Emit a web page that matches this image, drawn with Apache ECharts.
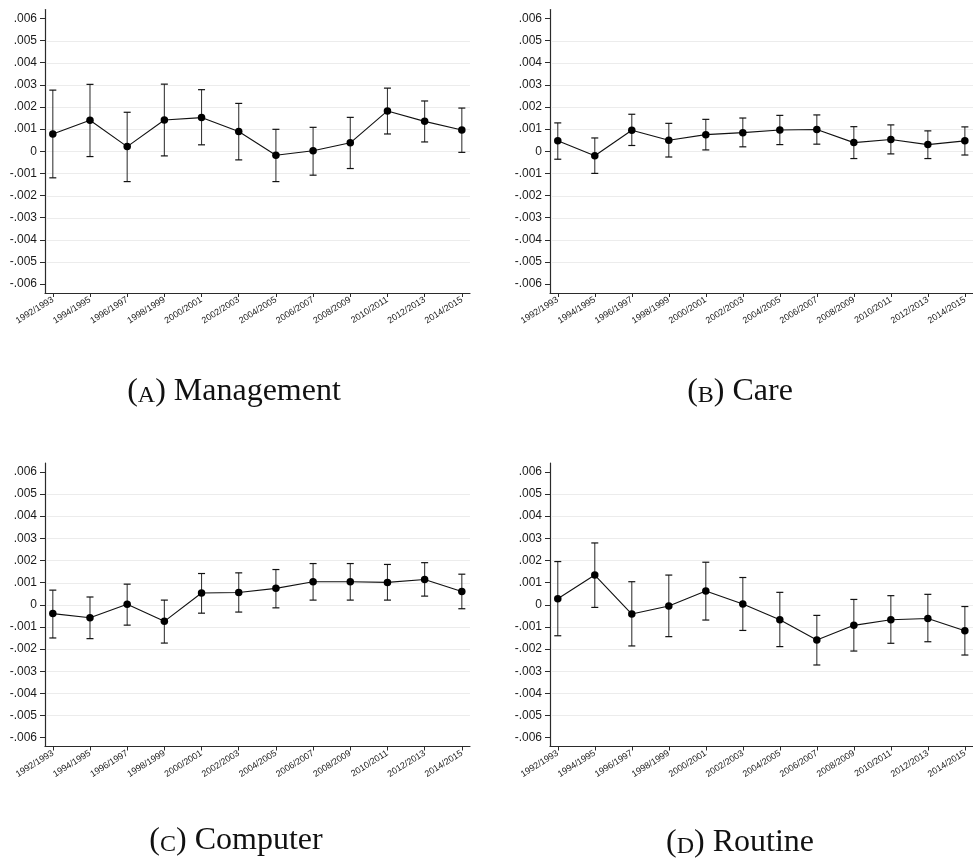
<!DOCTYPE html>
<html>
<head>
<meta charset="utf-8">
<script src="https://cdn.jsdelivr.net/npm/echarts@6/dist/echarts.min.js"></script>
<style>
  html, body { margin: 0; padding: 0; background: #ffffff; }
  #chart { width: 973px; height: 862px; }
</style>
</head>
<body>
<div id="chart"></div>
<script>
// Survey periods on the horizontal axis
const periods = ['1992/1993', '1994/1995', '1996/1997', '1998/1999', '2000/2001', '2002/2003',
                 '2004/2005', '2006/2007', '2008/2009', '2010/2011', '2012/2013', '2014/2015'];

// Labelled values on the vertical axis, and the light reference lines
const yTicks = [-0.006, -0.005, -0.004, -0.003, -0.002, -0.001, 0, 0.001, 0.002, 0.003, 0.004, 0.005, 0.006];
const yGridValues = [-0.005, -0.004, -0.003, -0.002, -0.001, 0, 0.001, 0.002, 0.003, 0.004, 0.005];

// (A) Management: point estimates and confidence bounds
const managementEst  = [0.00078, 0.00140, 0.00021, 0.00141, 0.00152, 0.00089, -0.00018, 0.00002, 0.00038, 0.00182, 0.00135, 0.00096];
const managementLow  = [-0.00120, -0.00024, -0.00137, -0.00021, 0.00029, -0.00039, -0.00137, -0.00108, -0.00078, 0.00078, 0.00042, -0.00005];
const managementHigh = [0.00276, 0.00302, 0.00176, 0.00303, 0.00278, 0.00216, 0.00099, 0.00108, 0.00153, 0.00285, 0.00227, 0.00195];

// (B) Care
const careEst  = [0.00047, -0.00020, 0.00095, 0.00050, 0.00075, 0.00084, 0.00096, 0.00098, 0.00039, 0.00053, 0.00030, 0.00047];
const careLow  = [-0.00036, -0.00100, 0.00026, -0.00026, 0.00006, 0.00020, 0.00030, 0.00032, -0.00033, -0.00012, -0.00033, -0.00017];
const careHigh = [0.00128, 0.00060, 0.00167, 0.00126, 0.00144, 0.00150, 0.00162, 0.00164, 0.00111, 0.00119, 0.00092, 0.00110];

// (C) Computer
const computerEst  = [-0.00040, -0.00059, 0.00002, -0.00075, 0.00053, 0.00055, 0.00074, 0.00104, 0.00104, 0.00101, 0.00114, 0.00060];
const computerLow  = [-0.00150, -0.00153, -0.00092, -0.00173, -0.00038, -0.00033, -0.00014, 0.00021, 0.00021, 0.00021, 0.00039, -0.00018];
const computerHigh = [0.00066, 0.00035, 0.00093, 0.00021, 0.00141, 0.00144, 0.00159, 0.00186, 0.00186, 0.00182, 0.00190, 0.00138];

// (D) Routine
const routineEst  = [0.00027, 0.00134, -0.00042, -0.00006, 0.00062, 0.00003, -0.00068, -0.00159, -0.00093, -0.00068, -0.00062, -0.00117];
const routineLow  = [-0.00140, -0.00012, -0.00186, -0.00144, -0.00069, -0.00116, -0.00189, -0.00272, -0.00209, -0.00174, -0.00167, -0.00227];
const routineHigh = [0.00195, 0.00279, 0.00104, 0.00134, 0.00192, 0.00123, 0.00056, -0.00048, 0.00024, 0.00041, 0.00047, -0.00008];

const panels = [
  { letter: 'A', name: 'Management', est: managementEst, low: managementLow, high: managementHigh },
  { letter: 'B', name: 'Care',       est: careEst,       low: careLow,       high: careHigh },
  { letter: 'C', name: 'Computer',   est: computerEst,   low: computerLow,   high: computerHigh },
  { letter: 'D', name: 'Routine',    est: routineEst,    low: routineLow,    high: routineHigh }
];

// Panel placement (2 x 2)
const layout = [
  { left: 45,  top: 9.5, capX: 234, capY: 392 },
  { left: 550, top: 9.5, capX: 740, capY: 392 },
  { left: 45,  top: 463, capX: 236, capY: 841 },
  { left: 550, top: 463, capX: 740, capY: 843 }
];
const plotW = 425, plotH = 283.5;

const axisColor = '#2b2b2b';
const labelColor = '#1a1a1a';
const sansFont = '"Liberation Sans", Arial, Helvetica, sans-serif';
const serifFont = '"Liberation Serif", "Times New Roman", serif';

function fmtTick(v) {
  const r = Math.round(v * 1000);
  if (r === 0) return '0';
  return (r < 0 ? '-' : '') + '.' + String(Math.abs(r)).padStart(3, '0');
}

const xIdx = periods.map((_, i) => i);

const grids = [], xAxes = [], yAxes = [], series = [], graphics = [];

panels.forEach((p, k) => {
  const L = layout[k];
  grids.push({ left: L.left, top: L.top, width: plotW, height: plotH, containLabel: false });

  xAxes.push({
    type: 'value', gridIndex: k, min: -0.21, max: 11.22,
    axisLine: { show: true, onZero: false, lineStyle: { color: axisColor, width: 1.2 } },
    axisTick: { show: true, customValues: xIdx, length: 4, lineStyle: { color: axisColor, width: 1 } },
    axisLabel: {
      customValues: xIdx, rotate: 32, margin: 6, fontSize: 9, color: labelColor,
      fontFamily: sansFont, hideOverlap: false,
      formatter: v => periods[Math.round(v)] || ''
    },
    splitLine: { show: false }
  });

  yAxes.push({
    type: 'value', gridIndex: k, min: -0.0064, max: 0.0064,
    axisLine: { show: true, onZero: false, lineStyle: { color: axisColor, width: 1.2 } },
    axisTick: { show: true, customValues: yTicks, length: 5, lineStyle: { color: axisColor, width: 1 } },
    axisLabel: {
      customValues: yTicks, margin: 8, fontSize: 12, color: labelColor,
      fontFamily: sansFont, hideOverlap: false, formatter: fmtTick
    },
    splitLine: { show: false }
  });

  // light horizontal reference lines across the plot area
  series.push({
    type: 'custom', xAxisIndex: k, yAxisIndex: k, z: 1, silent: true,
    encode: { y: 0 },
    data: yGridValues.map(v => [v]),
    renderItem: function (params, api) {
      const cs = params.coordSys;
      const y = Math.round(api.coord([0, api.value(0)])[1]) + 0.5;
      return {
        type: 'line',
        shape: { x1: cs.x + 1, y1: y, x2: cs.x + cs.width, y2: y },
        style: { stroke: '#ececec', lineWidth: 1 }
      };
    }
  });

  // confidence intervals with caps
  series.push({
    type: 'custom', xAxisIndex: k, yAxisIndex: k, z: 3, silent: true,
    encode: { x: 0, y: [1, 2] },
    data: xIdx.map(i => [i, p.low[i], p.high[i]]),
    renderItem: function (params, api) {
      const x = api.value(0);
      const lo = api.coord([x, api.value(1)]);
      const hi = api.coord([x, api.value(2)]);
      const cap = 3.5;
      return {
        type: 'group',
        children: [
          { type: 'line', shape: { x1: lo[0], y1: lo[1], x2: hi[0], y2: hi[1] }, style: { stroke: '#3a3a3a', lineWidth: 1.1 } },
          { type: 'line', shape: { x1: lo[0] - cap, y1: lo[1], x2: lo[0] + cap, y2: lo[1] }, style: { stroke: '#111', lineWidth: 1.2 } },
          { type: 'line', shape: { x1: hi[0] - cap, y1: hi[1], x2: hi[0] + cap, y2: hi[1] }, style: { stroke: '#111', lineWidth: 1.2 } }
        ]
      };
    }
  });

  // point estimates joined by a line
  series.push({
    type: 'line', xAxisIndex: k, yAxisIndex: k, z: 4, silent: true,
    data: xIdx.map(i => [i, p.est[i]]),
    symbol: 'circle', symbolSize: 7.5, showAllSymbol: true,
    itemStyle: { color: '#000000' },
    lineStyle: { color: '#111111', width: 1.1 }
  });

  graphics.push({
    type: 'text', x: L.capX, y: L.capY, silent: true,
    style: {
      text: '{p|(}{sc|' + p.letter + '}{p|)} ' + '{p|' + p.name + '}',
      align: 'center', verticalAlign: 'middle',
      rich: {
        p:  { fontFamily: serifFont, fontSize: 32, fill: '#111', verticalAlign: 'bottom' },
        sc: { fontFamily: serifFont, fontSize: 24, fill: '#111', verticalAlign: 'bottom' }
      },
      fontFamily: serifFont, fontSize: 32, fill: '#111'
    }
  });
});

const chart = echarts.init(document.getElementById('chart'), null, { renderer: 'canvas' });
chart.setOption({
  backgroundColor: '#ffffff',
  animation: false,
  grid: grids,
  xAxis: xAxes,
  yAxis: yAxes,
  series: series,
  graphic: graphics
});
</script>
</body>
</html>
